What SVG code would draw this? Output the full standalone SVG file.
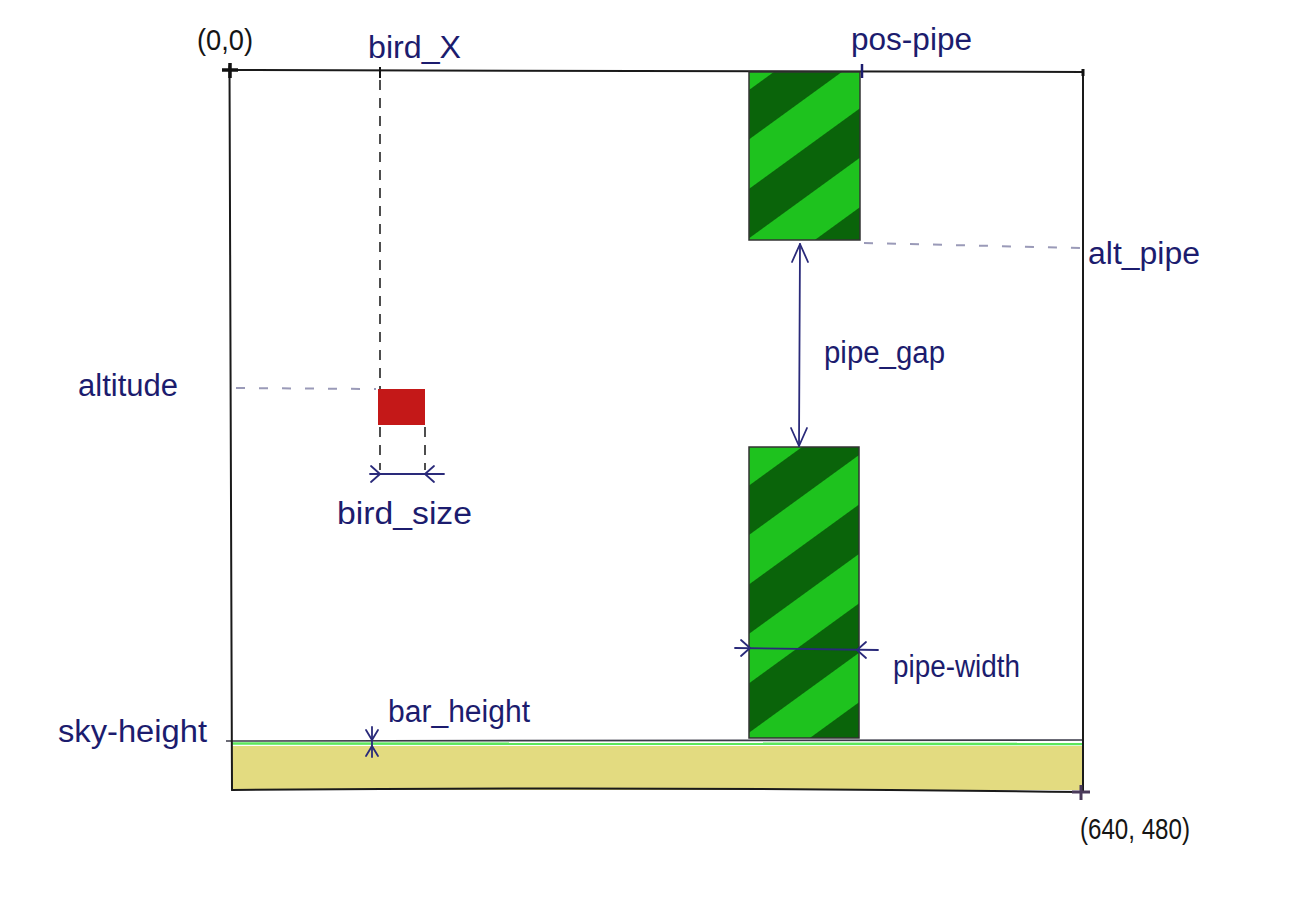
<svg xmlns="http://www.w3.org/2000/svg" width="1300" height="899" viewBox="0 0 1300 899">
<style>
.frame{stroke:#1a1a1a;stroke-width:2;fill:none;stroke-linecap:round}
.thin{stroke:#3a3a48;stroke-width:1.6;fill:none}
.dash{stroke:#222;stroke-width:1.6;fill:none;stroke-dasharray:10 8}
.gdash{stroke:#9a9ab8;stroke-width:2;fill:none;stroke-dasharray:9 14}
.arrow{stroke:#2a2a7a;stroke-width:1.8;fill:none;stroke-linecap:round;stroke-linejoin:round}
.lbl{font-family:"Liberation Sans","DejaVu Sans",sans-serif;font-size:31px;fill:#1c1c6e}
.coord{font-family:"Liberation Sans","DejaVu Sans",sans-serif;font-size:30px;fill:#151515}
</style>
<defs>
<pattern id="stripes" patternUnits="userSpaceOnUse" x="749" y="90" width="80" height="80" patternTransform="rotate(-36 749 90)">
<rect x="0" y="0" width="80" height="80" fill="#1ec21e"/>
<rect x="0" y="0" width="80" height="40" fill="#0a640a"/>
</pattern>
</defs>
<rect x="0" y="0" width="1300" height="899" fill="#ffffff"/>
<g id="ground">
<rect x="232" y="746" width="851" height="44" fill="#e3db80"/>
<line x1="232" y1="743.5" x2="1083" y2="744" stroke="#5ce65c" stroke-width="2.5"/>
<line x1="226" y1="741" x2="1083" y2="740" class="thin"/>
</g>
<g id="frame">
<line x1="230" y1="70" x2="1083" y2="72" class="frame" stroke="#555"/>
<line x1="229.5" y1="66" x2="232" y2="790" class="frame"/>
<line x1="1083" y1="72" x2="1083" y2="792" class="frame"/>
<path d="M232 790 Q650 786 1083 792" class="frame"/>
<line x1="222" y1="70" x2="238" y2="70" stroke="#111" stroke-width="3.5"/>
<line x1="230" y1="63" x2="230" y2="78" stroke="#111" stroke-width="3.5"/>
<line x1="1072" y1="792" x2="1090" y2="792" stroke="#4a3a5a" stroke-width="3"/>
<line x1="1081" y1="785" x2="1081" y2="800" stroke="#4a3a5a" stroke-width="3"/>
<line x1="380" y1="67" x2="380" y2="78" stroke="#111" stroke-width="2"/>
<line x1="862" y1="64" x2="862" y2="78" stroke="#1c1c6e" stroke-width="2.5"/>
<line x1="1083" y1="69" x2="1083" y2="76" stroke="#111" stroke-width="3"/>
</g>
<g id="pipe-top">
<rect x="749" y="72" width="111" height="168" fill="url(#stripes)" stroke="#333" stroke-width="1.5"/>
</g>
<g id="pipe-bottom">
<rect x="749" y="447" width="110" height="291" fill="url(#stripes)" stroke="#333" stroke-width="1.5"/>
</g>
<g id="bird">
<rect x="378" y="389" width="47" height="36" fill="#c41818"/>
</g>
<g id="connectors">
<line x1="380" y1="80" x2="380" y2="389" class="dash"/>
<line x1="380" y1="427" x2="380" y2="470" class="dash"/>
<line x1="425" y1="427" x2="425" y2="470" class="dash"/>
<line x1="236" y1="388" x2="376" y2="389" class="gdash"/>
<line x1="864" y1="243" x2="1080" y2="248" class="gdash"/>
<line x1="370" y1="474" x2="444" y2="474" class="arrow"/>
<path d="M371 466 L380 474 L371 482" class="arrow"/>
<path d="M434 466 L425 474 L434 482" class="arrow"/>
<line x1="800" y1="244" x2="799" y2="446" class="arrow"/>
<path d="M792 262 L800 244 L808 262" class="arrow"/>
<path d="M791 428 L799 446 L807 428" class="arrow"/>
<line x1="735" y1="648" x2="878" y2="650" class="arrow"/>
<path d="M741 640 L750 648 L741 656" class="arrow"/>
<path d="M866 642 L857 650 L866 658" class="arrow"/>
<line x1="372" y1="727" x2="372" y2="757" class="arrow"/>
<path d="M366 730 L372 740 L378 730" class="arrow"/>
<path d="M366 756 L372 746 L378 756" class="arrow"/>
</g>
<g id="labels">
<text x="197" y="50" class="coord" textLength="56" lengthAdjust="spacingAndGlyphs">(0,0)</text>
<text x="368" y="58" class="lbl" textLength="93" lengthAdjust="spacingAndGlyphs">bird_X</text>
<text x="851" y="50" class="lbl" textLength="121" lengthAdjust="spacingAndGlyphs">pos-pipe</text>
<text x="1088" y="264" class="lbl" textLength="112" lengthAdjust="spacingAndGlyphs">alt_pipe</text>
<text x="78" y="396" class="lbl" textLength="100" lengthAdjust="spacingAndGlyphs">altitude</text>
<text x="824" y="363" class="lbl" textLength="121" lengthAdjust="spacingAndGlyphs">pipe_gap</text>
<text x="337" y="524" class="lbl" textLength="135" lengthAdjust="spacingAndGlyphs">bird_size</text>
<text x="893" y="677" class="lbl" textLength="127" lengthAdjust="spacingAndGlyphs">pipe-width</text>
<text x="388" y="722" class="lbl" textLength="142" lengthAdjust="spacingAndGlyphs">bar_height</text>
<text x="58" y="742" class="lbl" textLength="149" lengthAdjust="spacingAndGlyphs">sky-height</text>
<text x="1080" y="839" class="coord" textLength="110" lengthAdjust="spacingAndGlyphs">(640, 480)</text>
</g>
</svg>
